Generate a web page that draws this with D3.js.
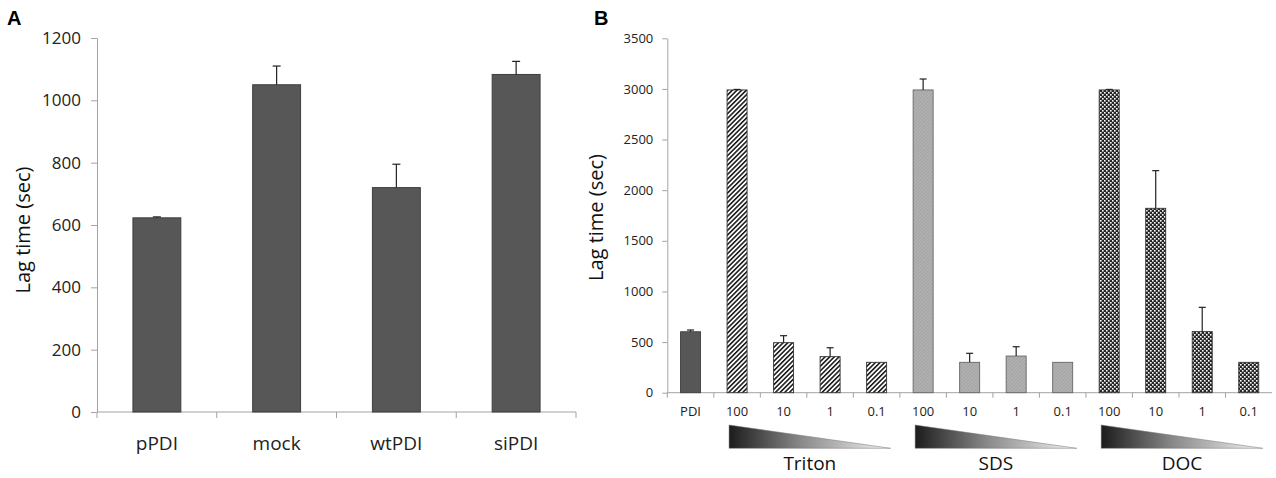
<!DOCTYPE html>
<html><head><meta charset="utf-8">
<script src="https://cdn.jsdelivr.net/npm/d3@7"></script>
<style>body{margin:0;background:#fff}svg{display:block}text{font-family:"Open Sans",sans-serif}</style>
</head><body>
<svg id="c" width="1276" height="478"></svg>
<script>
// ---- Panel A data ----
const catsA = ["pPDI", "mock", "wtPDI", "siPDI"];
const valsA = [623, 1050, 720, 1083];
const errA  = [3, 60, 75, 42];
const ticksA = [0, 200, 400, 600, 800, 1000, 1200];

// ---- Panel B data ----
const labelsB = ["PDI", "100", "10", "1", "0.1", "100", "10", "1", "0.1", "100", "10", "1", "0.1"];
const groupB  = ["PDI", "Triton", "Triton", "Triton", "Triton", "SDS", "SDS", "SDS", "SDS", "DOC", "DOC", "DOC", "DOC"];
const valsB   = [602, 2990, 494, 356, 300, 2990, 300, 362, 300, 2990, 1821, 603, 300];
const errB    = [17, 5, 69, 88, 0, 108, 89, 92, 0, 5, 372, 240, 0];
const ticksB  = [0, 500, 1000, 1500, 2000, 2500, 3000, 3500];
const detergents = ["Triton", "SDS", "DOC"];

const svg = d3.select("#c");
const defs = svg.append("defs");

// patterns
const pT = defs.append("pattern").attr("id", "pTriton").attr("patternUnits", "userSpaceOnUse")
  .attr("width", 3.3).attr("height", 10).attr("patternTransform", "rotate(45)");
pT.append("rect").attr("width", 3.3).attr("height", 10).attr("fill", "#fff");
pT.append("rect").attr("width", 1.6).attr("height", 10).attr("fill", "#1e1e1e");

const pS = defs.append("pattern").attr("id", "pSDS").attr("patternUnits", "userSpaceOnUse")
  .attr("width", 2.4).attr("height", 10).attr("patternTransform", "rotate(45)");
pS.append("rect").attr("width", 2.4).attr("height", 10).attr("fill", "#b4b4b4");
pS.append("rect").attr("width", 1.1).attr("height", 10).attr("fill", "#a2a2a2");

const pD = defs.append("pattern").attr("id", "pDOC").attr("patternUnits", "userSpaceOnUse")
  .attr("width", 4).attr("height", 4);
pD.append("rect").attr("width", 4).attr("height", 4).attr("fill", "#262626");
pD.append("rect").attr("x", 0).attr("y", 0).attr("width", 1.6).attr("height", 1.6).attr("fill", "#fff");
pD.append("rect").attr("x", 2).attr("y", 2).attr("width", 1.6).attr("height", 1.6).attr("fill", "#fff");

const grad = defs.append("linearGradient").attr("id", "tri").attr("x1", "0").attr("x2", "1").attr("y1", "0").attr("y2", "0");
grad.append("stop").attr("offset", "0").attr("stop-color", "#1c1c1c");
grad.append("stop").attr("offset", "0.45").attr("stop-color", "#8a8a8a");
grad.append("stop").attr("offset", "1").attr("stop-color", "#f4f4f4");

const axisCol = "#a3a3a3";
const fmt = d3.format("d");
function styleAxis(g, fs) {
  g.select(".domain").attr("stroke", axisCol);
  g.selectAll(".tick line").attr("stroke", axisCol);
  g.selectAll(".tick text").attr("fill", "#222").style("font-size", fs + "px")
    .style("font-family", '"Open Sans", sans-serif');
}

// ================= Panel A =================
const xA = d3.scaleBand().domain(catsA).range([97, 576]).padding(0);
const yA = d3.scaleLinear().domain([0, 1200]).range([412, 38]);
const gA = svg.append("g");

const gyA = gA.append("g").attr("transform", `translate(${xA.range()[0]},0)`)
  .call(d3.axisLeft(yA).tickValues(ticksA).tickFormat(fmt).tickSize(6).tickSizeOuter(0).tickPadding(10));
styleAxis(gyA, 17);

gA.append("line").attr("x1", xA.range()[0]).attr("x2", xA.range()[1])
  .attr("y1", yA(0)).attr("y2", yA(0)).attr("stroke", axisCol);
const boundsA = catsA.map(c => xA(c)).concat([xA.range()[1]]);
gA.selectAll(".bt").data(boundsA).join("line")
  .attr("x1", d => d).attr("x2", d => d).attr("y1", yA(0)).attr("y2", yA(0) + 6).attr("stroke", axisCol);

const gxA = gA.append("g").attr("transform", `translate(0,${yA(0)})`)
  .call(d3.axisBottom(xA).tickSize(0).tickPadding(25));
gxA.select(".domain").remove();
styleAxis(gxA, 19);

const bwA = xA.bandwidth() * 0.4;
gA.selectAll(".barA").data(catsA).join("rect")
  .attr("x", c => xA(c) + (xA.bandwidth() - bwA) / 2)
  .attr("width", bwA)
  .attr("y", (c, i) => yA(valsA[i]))
  .attr("height", (c, i) => yA(0) - yA(valsA[i]))
  .attr("fill", "#575757").attr("stroke", "#3e3e3e").attr("stroke-width", 1);

catsA.forEach((c, i) => {
  const cx = xA(c) + xA.bandwidth() / 2;
  const y0 = yA(valsA[i]), y1 = yA(valsA[i] + errA[i]);
  gA.append("line").attr("x1", cx).attr("x2", cx).attr("y1", y0).attr("y2", y1).attr("stroke", "#222").attr("stroke-width", 1.2);
  gA.append("line").attr("x1", cx - 4).attr("x2", cx + 4).attr("y1", y1).attr("y2", y1).attr("stroke", "#222").attr("stroke-width", 1.2);
});

svg.append("text").attr("transform", `translate(30,${(yA(0) + yA(1200)) / 2 + 5}) rotate(-90)`)
  .attr("text-anchor", "middle").style("font-size", "20px").attr("fill", "#111").text("Lag time (sec)");
svg.append("text").attr("x", 7).attr("y", 25).style("font-family", "Arial, 'Liberation Sans', sans-serif")
  .style("font-weight", "bold").style("font-size", "20px").attr("fill", "#000").text("A");

// ================= Panel B =================
const idxB = d3.range(labelsB.length);
const xB = d3.scaleBand().domain(idxB).range([667.3, 1272]).padding(0);
const yB = d3.scaleLinear().domain([0, 3500]).range([392.7, 38.3]);
const gB = svg.append("g");

const gyB = gB.append("g").attr("transform", `translate(${xB.range()[0]},0)`)
  .call(d3.axisLeft(yB).tickValues(ticksB).tickFormat(fmt).tickSize(5).tickSizeOuter(0).tickPadding(9));
styleAxis(gyB, 13);

gB.append("line").attr("x1", xB.range()[0]).attr("x2", xB.range()[1])
  .attr("y1", yB(0)).attr("y2", yB(0)).attr("stroke", axisCol);
const boundsB = idxB.map(i => xB(i));
gB.selectAll(".btB").data(boundsB).join("line")
  .attr("x1", d => d).attr("x2", d => d).attr("y1", yB(0)).attr("y2", yB(0) + 5).attr("stroke", axisCol);

const gxB = gB.append("g").attr("transform", `translate(0,${yB(0)})`)
  .call(d3.axisBottom(xB).tickSize(0).tickPadding(14).tickFormat(i => labelsB[i]));
gxB.select(".domain").remove();
styleAxis(gxB, 13);

const fillFor = g => g === "PDI" ? "#575757" : g === "Triton" ? "url(#pTriton)" : g === "SDS" ? "url(#pSDS)" : "url(#pDOC)";
const strokeFor = g => g === "PDI" ? "#3e3e3e" : g === "SDS" ? "#666" : "#333";
const bwB = xB.bandwidth() * 0.43;
gB.selectAll(".barB").data(idxB).join("rect")
  .attr("x", i => xB(i) + (xB.bandwidth() - bwB) / 2)
  .attr("width", bwB)
  .attr("y", i => yB(valsB[i]))
  .attr("height", i => yB(0) - yB(valsB[i]))
  .attr("fill", i => fillFor(groupB[i])).attr("stroke", i => strokeFor(groupB[i])).attr("stroke-width", 0.9);

idxB.forEach(i => {
  if (!errB[i]) return;
  const cx = xB(i) + xB.bandwidth() / 2;
  const y0 = yB(valsB[i]), y1 = yB(valsB[i] + errB[i]);
  gB.append("line").attr("x1", cx).attr("x2", cx).attr("y1", y0).attr("y2", y1).attr("stroke", "#222").attr("stroke-width", 1.2);
  gB.append("line").attr("x1", cx - 3.5).attr("x2", cx + 3.5).attr("y1", y1).attr("y2", y1).attr("stroke", "#222").attr("stroke-width", 1.2);
});

// gradient triangles + detergent labels
detergents.forEach(det => {
  const members = idxB.filter(i => groupB[i] === det);
  const first = members[0], last = members[members.length - 1];
  const x0 = xB(first) + xB.bandwidth() / 2 - 8;
  const x1 = xB(last) + xB.bandwidth() / 2 + 14;
  const top = 425, bot = 448.3;
  gB.append("path").attr("d", `M${x0},${top}L${x1},${bot}L${x0},${bot}Z`)
    .attr("fill", "url(#tri)").attr("stroke", "#777").attr("stroke-width", 0.5);
  gB.append("text").attr("x", (x0 + x1) / 2).attr("y", 469.5).attr("text-anchor", "middle")
    .style("font-size", "19px").attr("fill", "#111").text(det);
});

svg.append("text").attr("transform", `translate(603,${(yB(0) + yB(3500)) / 2 + 2}) rotate(-90)`)
  .attr("text-anchor", "middle").style("font-size", "20px").attr("fill", "#111").text("Lag time (sec)");
svg.append("text").attr("x", 594).attr("y", 25).style("font-family", "Arial, 'Liberation Sans', sans-serif")
  .style("font-weight", "bold").style("font-size", "20px").attr("fill", "#000").text("B");
</script>
</body></html>
